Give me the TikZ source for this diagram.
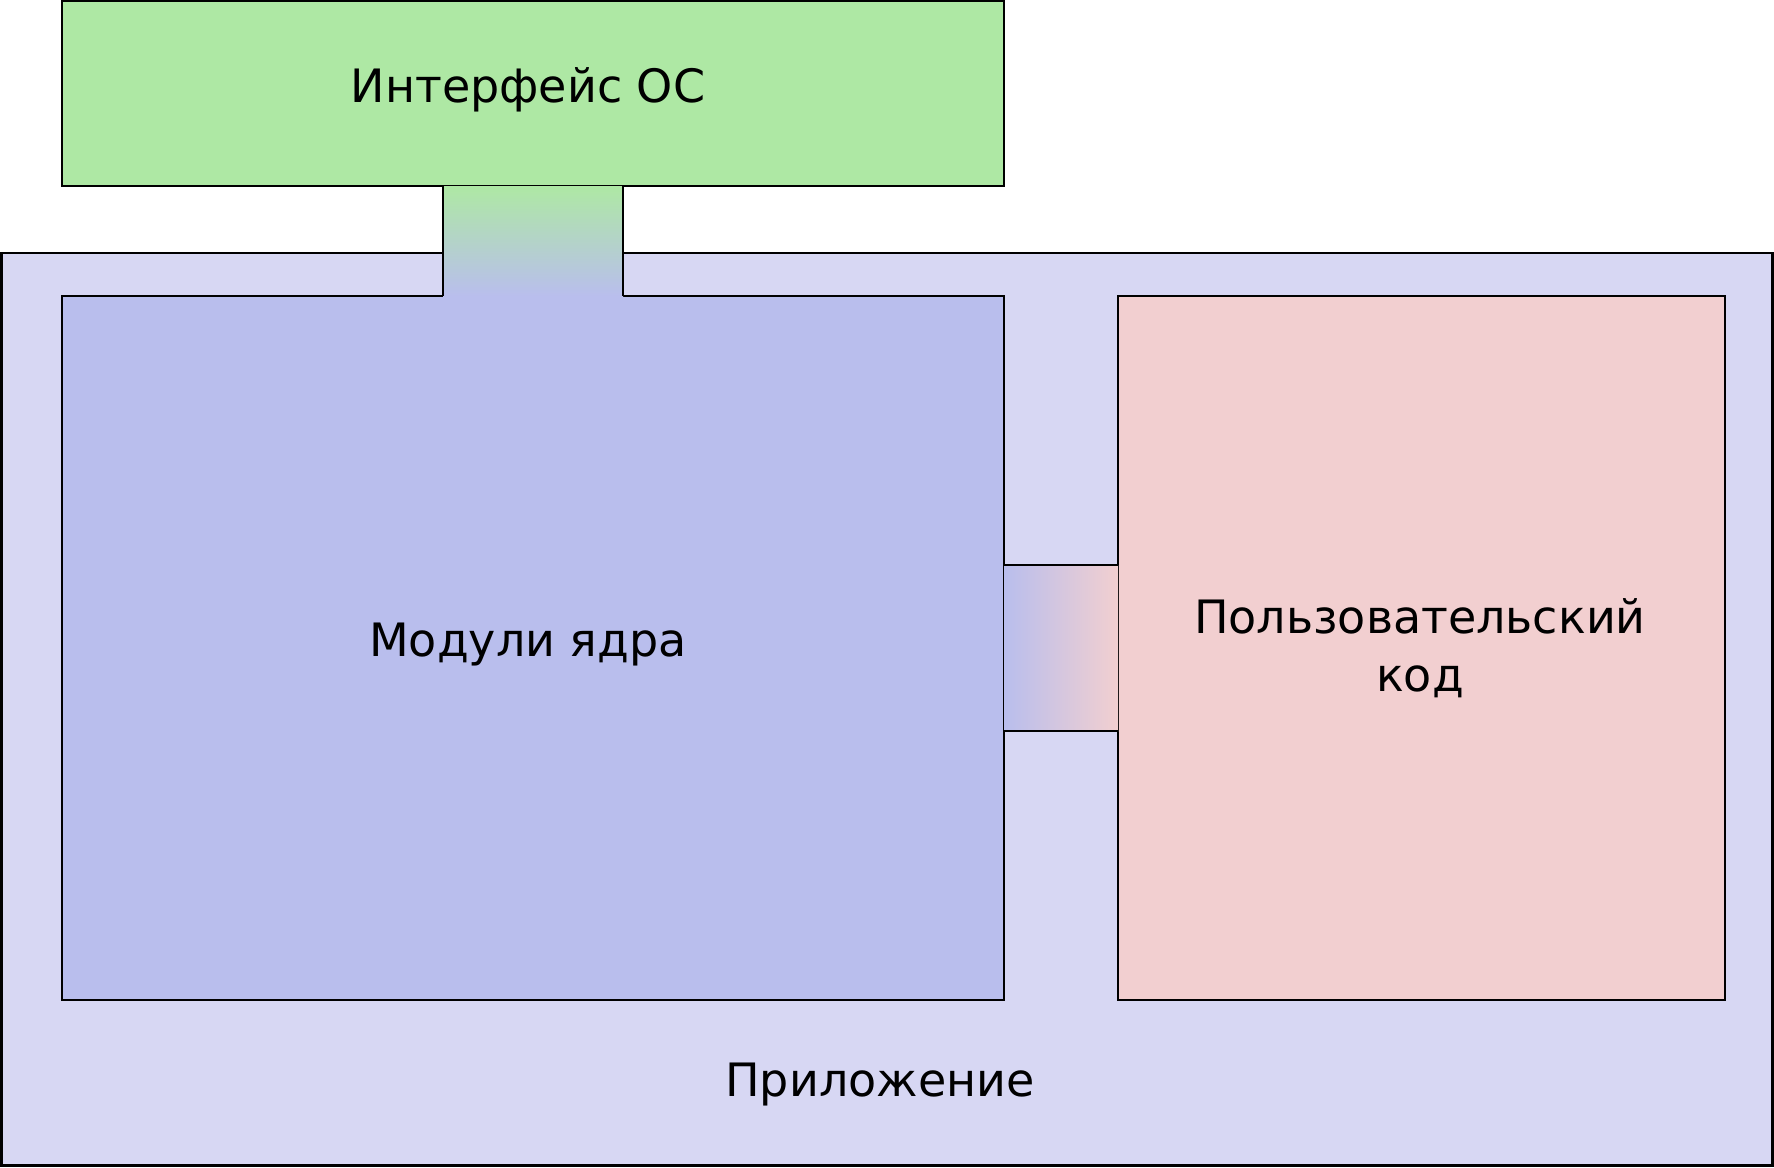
\documentclass[tikz,border=0pt]{standalone}
\usepackage{fontspec}
\setmainfont{DejaVu Sans}
\begin{document}
\definecolor{appc}{HTML}{D7D7F3}
\definecolor{osc}{HTML}{AEE8A4}
\definecolor{kc}{HTML}{B9BEED}
\definecolor{uc}{HTML}{F2CFD0}
\begin{tikzpicture}[x=1pt,y=-1pt,
  box/.style={draw=black,line width=1.5pt},
  lbl/.style={font=\fontsize{46}{58}\selectfont,align=center}]
\useasboundingbox (0,0) rectangle (1774,1167);
\draw[box,fill=appc,line width=2.5pt] (1.5,253) rectangle (1772.5,1165.5);
\node[lbl] (app) at (880,1085) {Приложение};
\draw[box,fill=osc] (62,1) rectangle (1004,186);
\node[lbl] (os) at (528,90) {Интерфейс ОС};
\draw[box,fill=kc] (62,296) rectangle (1004,1000);
\node[lbl] (k) at (528,645) {Модули ядра};
\draw[box,fill=uc] (1118,296) rectangle (1725,1000);
\node[lbl] (u) at (1420,648) {Пользовательский\\код};
\shade[top color=osc,bottom color=kc] (443,186) rectangle (623,296);
\draw[box] (443,186) -- (443,296) (623,186) -- (623,296);
\shade[left color=kc,right color=uc] (1004,565) rectangle (1118,731);
\draw[box] (1004,565) -- (1118,565) (1004,731) -- (1118,731);
\end{tikzpicture}
\end{document}
